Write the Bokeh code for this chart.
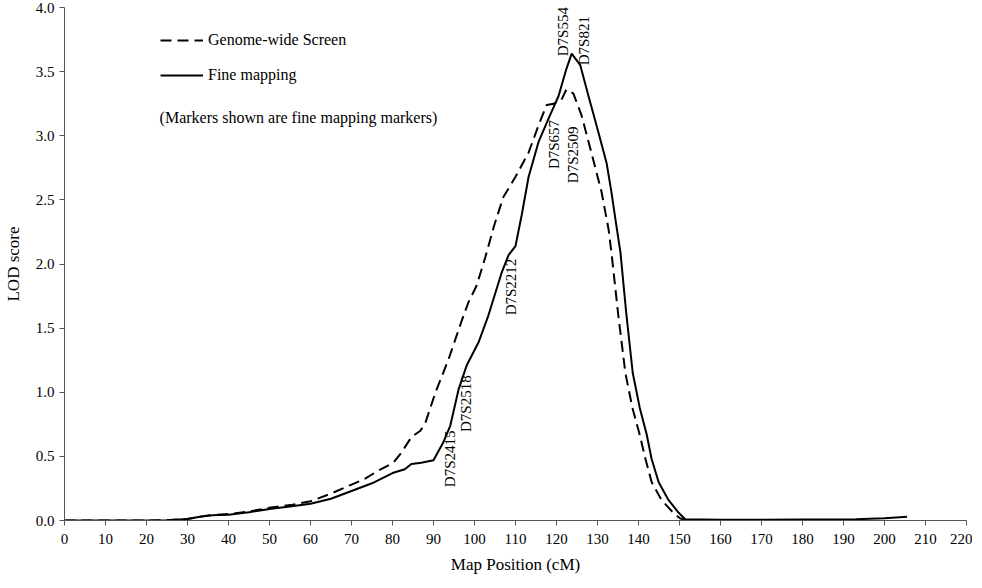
import math
from bokeh.plotting import figure
from bokeh.models import Range1d, FixedTicker, PrintfTickFormatter, Legend, LegendItem, Label
from bokeh.core.properties import value
from bokeh.embed import file_html
from bokeh.resources import INLINE

# Genome-wide screen (dashed)
gw_pos = [0, 10, 20, 25, 30, 35, 40, 45, 50, 55, 60, 65, 70, 73, 76.6, 80.2, 82.2, 84.6, 86.8,
          88.0, 90.5, 93.7, 96.8, 98.5, 100.5, 102.7, 104.8, 107.0, 110.0, 113.2, 115.6, 117.6,
          119.3, 121.2, 122.4, 124.1, 126.1, 128.5, 131.0, 132.7, 133.4, 135.0, 136.8, 138.5,
          140.2, 141.7, 143.2, 145.6, 148.5, 150.2, 152, 160]
gw_lod = [0, 0, 0, 0.002, 0.012, 0.04, 0.05, 0.07, 0.10, 0.12, 0.15, 0.21, 0.28, 0.32, 0.39, 0.45,
          0.53, 0.65, 0.70, 0.76, 1.00, 1.26, 1.55, 1.70, 1.83, 2.06, 2.30, 2.52, 2.68, 2.87, 3.08,
          3.24, 3.25, 3.28, 3.36, 3.33, 3.16, 2.87, 2.56, 2.27, 2.09, 1.62, 1.15, 0.88,
          0.68, 0.48, 0.30, 0.16, 0.06, 0.015, 0, 0]

# Fine mapping (solid)
fm_pos = [0, 10, 20, 25, 30, 33, 36, 40, 45, 50, 55, 60, 65, 70, 75, 80, 83, 84.6, 87, 90.0,
          92.4, 94.1, 96.1, 98.1, 101.0, 103.4, 106.6, 108.3, 110.0, 111.5, 113.2, 115.6, 118.0,
          120.5, 122.4, 123.7, 125.8, 127.8, 130.2, 132.2, 133.4, 134.6, 135.6, 137.0, 138.6,
          140.3, 142.0, 143.2, 144.9, 147.3, 149.8, 151.4, 160, 180, 193, 200, 205.5]
fm_lod = [0, 0, 0, 0.002, 0.012, 0.03, 0.04, 0.045, 0.065, 0.09, 0.11, 0.13, 0.17, 0.23, 0.29,
          0.37, 0.40, 0.44, 0.45, 0.47, 0.61, 0.74, 1.02, 1.21, 1.39, 1.60, 1.93, 2.07, 2.14,
          2.38, 2.68, 2.95, 3.13, 3.31, 3.52, 3.64, 3.55, 3.31, 3.03, 2.79, 2.56, 2.30, 2.09,
          1.62, 1.15, 0.88, 0.67, 0.48, 0.30, 0.16, 0.06, 0.01, 0.005, 0.008, 0.01, 0.018, 0.03]

# Fine-mapping markers: label anchor (cM, LOD)
marker_names = ["D7S2415", "D7S2518", "D7S2212", "D7S657", "D7S2509", "D7S554", "D7S821"]
marker_x = [94.1, 98.0, 109.0, 119.3, 124.1, 121.7, 126.6]
marker_y = [0.26, 0.69, 1.60, 2.74, 2.63, 3.62, 3.55]

x_ticks = list(range(0, 221, 10))
y_ticks = [0, 0.5, 1.0, 1.5, 2.0, 2.5, 3.0, 3.5, 4.0]

FONT = "Liberation Serif"

p = figure(output_backend="svg", toolbar_location=None,
           frame_width=902, frame_height=513,
           x_range=Range1d(0, 220), y_range=Range1d(0, 4))
p.min_border_left = 58
p.min_border_right = 6
p.min_border_top = 7
p.min_border_bottom = 52
p.outline_line_color = None
p.xgrid.visible = False
p.ygrid.visible = False
p.background_fill_color = "white"
p.border_fill_color = "white"

for ax in (p.xaxis[0], p.yaxis[0]):
    ax.axis_line_color = "#555555"
    ax.axis_line_width = 1
    ax.major_tick_line_color = "#555555"
    ax.major_tick_out = 5
    ax.major_tick_in = 0
    ax.minor_tick_out = 0
    ax.minor_tick_in = 0
    ax.major_label_text_font = FONT
    ax.major_label_text_font_size = "15px"
    ax.major_label_text_color = "black"
    ax.axis_label_text_font = FONT
    ax.axis_label_text_font_size = "17px"
    ax.axis_label_text_font_style = "normal"
    ax.axis_label_text_color = "black"

p.xaxis.ticker = FixedTicker(ticks=x_ticks)
p.xaxis.formatter = PrintfTickFormatter(format="%d")
p.xaxis.major_label_standoff = 8
p.xaxis.axis_label = "Map Position (cM)"
p.xaxis.axis_label_standoff = 8

p.yaxis.ticker = FixedTicker(ticks=y_ticks)
p.yaxis.formatter = PrintfTickFormatter(format="%.1f")
p.yaxis.major_label_standoff = 5
p.yaxis.axis_label = "LOD score"
p.yaxis.axis_label_standoff = 10

r_gw = p.line(gw_pos, gw_lod, line_color="black", line_width=2, line_dash="11 6")
r_fm = p.line(fm_pos, fm_lod, line_color="black", line_width=2)

p.text(x=marker_x, y=marker_y, text=marker_names, angle=math.pi / 2,
       text_align="left", text_baseline="middle",
       text_font=value(FONT), text_font_size="15px", text_color="black")

legend = Legend(items=[LegendItem(label="Genome-wide Screen", renderers=[r_gw]),
                       LegendItem(label="Fine mapping", renderers=[r_fm])],
                location=(96, 435), orientation="vertical",
                glyph_width=43, glyph_height=20, label_height=20, label_standoff=5,
                spacing=15, padding=0, margin=0,
                border_line_color=None, background_fill_alpha=0,
                label_text_font=FONT, label_text_font_size="16px", label_text_color="black")
p.add_layout(legend, "center")

p.add_layout(Label(x=23.2, y=3.14, text="(Markers shown are fine mapping markers)",
                   text_font=FONT, text_font_size="16px", text_baseline="middle",
                   text_color="black"))

open("out.html", "w").write(file_html(p, INLINE))
